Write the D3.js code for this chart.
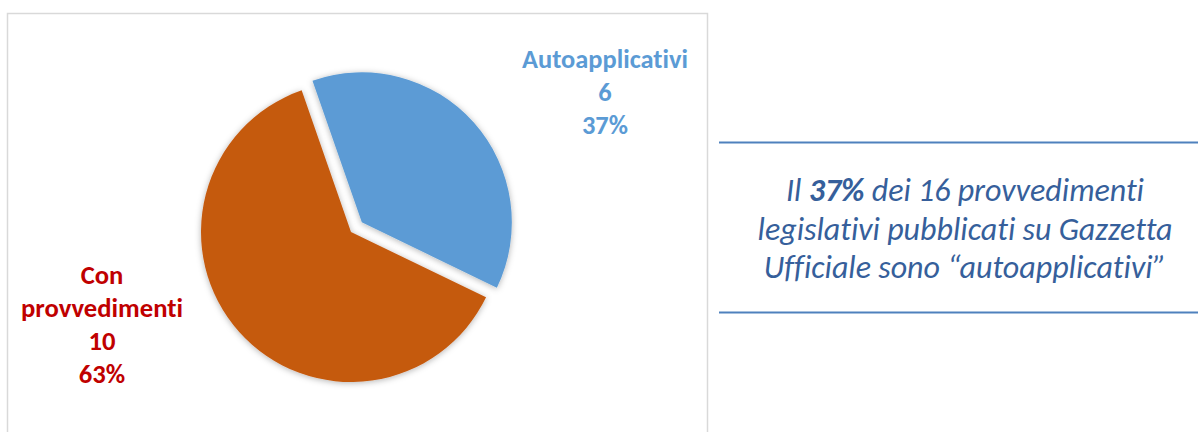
<!DOCTYPE html>
<html>
<head>
<meta charset="utf-8">
<script src="https://cdn.jsdelivr.net/npm/d3@7"></script>
<style>
  body { margin: 0; background: #fff; }
  svg { display: block; }
  text { font-variant-ligatures: none; }
</style>
</head>
<body>
<svg width="1198" height="432"></svg>
<script>
const categories = ['Autoapplicativi', 'Con provvedimenti']
const values = [6, 10]
const pctLabels = ['37%', '63%']
const labelLines = [
    ['Autoapplicativi', '6', '37%'],
    ['Con', 'provvedimenti', '10', '63%']
]
const colors = ['#5B9BD5', '#C55A11']
const labelColors = ['#5B9BD5', '#C00000']
const noteLines = [
    [['Il ', false], ['37%', true], [' dei 16 provvedimenti', false]],
    [['legislativi pubblicati su Gazzetta', false]],
    [['Ufficiale sono \u201cautoapplicativi\u201d', false]]
]

const svg = d3.select('svg')
const font = 'Carlito, Lato, sans-serif'

// scale a text block so its widest line gets the wanted width
function fitWidth(text, target) {
    let w = 0
    text.selectAll(':scope > tspan').each(function() {
        w = Math.max(w, this.getComputedTextLength())
    })
    const fs = +text.attr('font-size')
    text.attr('font-size', fs * target / w)
}

// chart frame
svg.append('rect')
    .attr('x', 7.5).attr('y', 13.5)
    .attr('width', 700).attr('height', 440)
    .attr('fill', 'none')
    .attr('stroke', '#d9d9d9')
    .attr('stroke-width', 1.5)

const defs = svg.append('defs')
defs.append('filter')
    .attr('id', 'shadow')
    .attr('x', '-20%').attr('y', '-20%')
    .attr('width', '140%').attr('height', '140%')
    .append('feDropShadow')
        .attr('dx', 0).attr('dy', 1)
        .attr('stdDeviation', 3)
        .attr('flood-color', '#000')
        .attr('flood-opacity', 0.3)

const cx = 351, cy = 232, radius = 150, explode = 14.5
const rot = -19.2 * Math.PI / 180

const pie = d3.pie().sort(null).value(d => d)
    .startAngle(rot).endAngle(rot + 2 * Math.PI)
const arc = d3.arc().innerRadius(0).outerRadius(radius)
const arcs = pie(values)

const g = svg.append('g')
    .attr('transform', `translate(${cx},${cy})`)

g.selectAll('path').data(arcs)
    .enter().append('path')
        .attr('d', arc)
        .attr('fill', (d, i) => colors[i])
        .attr('filter', 'url(#shadow)')
        .attr('transform', (d, i) => {
            if (i !== 0) return null
            const a = (d.startAngle + d.endAngle) / 2
            return `translate(${Math.sin(a) * explode},${-Math.cos(a) * explode})`
        })

// data labels
const labelPos = [[605, 68], [102, 284]]
const labelWidth = [166, 162]
const lineH = 33

labelLines.forEach((lines, i) => {
    const t = svg.append('text')
        .attr('text-anchor', 'middle')
        .attr('font-family', font)
        .attr('font-weight', 'bold')
        .attr('font-size', 21)
        .attr('fill', labelColors[i])
    t.selectAll('tspan').data(lines)
        .enter().append('tspan')
            .attr('x', labelPos[i][0])
            .attr('y', (d, j) => labelPos[i][1] + j * lineH)
            .text(d => d)
    fitWidth(t, labelWidth[i])
})

// note on the right
const rule = svg.append('g')
rule.selectAll('line').data([142.5, 312.5])
    .enter().append('line')
        .attr('x1', 719).attr('x2', 1198)
        .attr('y1', d => d).attr('y2', d => d)
        .attr('stroke', '#4F81BD')
        .attr('stroke-width', 2)

const note = svg.append('text')
    .attr('text-anchor', 'middle')
    .attr('font-family', font)
    .attr('font-style', 'italic')
    .attr('font-size', 26)
    .attr('fill', '#365F9B')

noteLines.forEach((parts, j) => {
    const line = note.append('tspan')
        .attr('x', 965)
        .attr('y', 201 + j * 38.5)
    parts.forEach(p => {
        line.append('tspan')
            .attr('font-weight', p[1] ? 'bold' : null)
            .text(p[0])
    })
})
fitWidth(note, 415)
</script>
</body>
</html>
